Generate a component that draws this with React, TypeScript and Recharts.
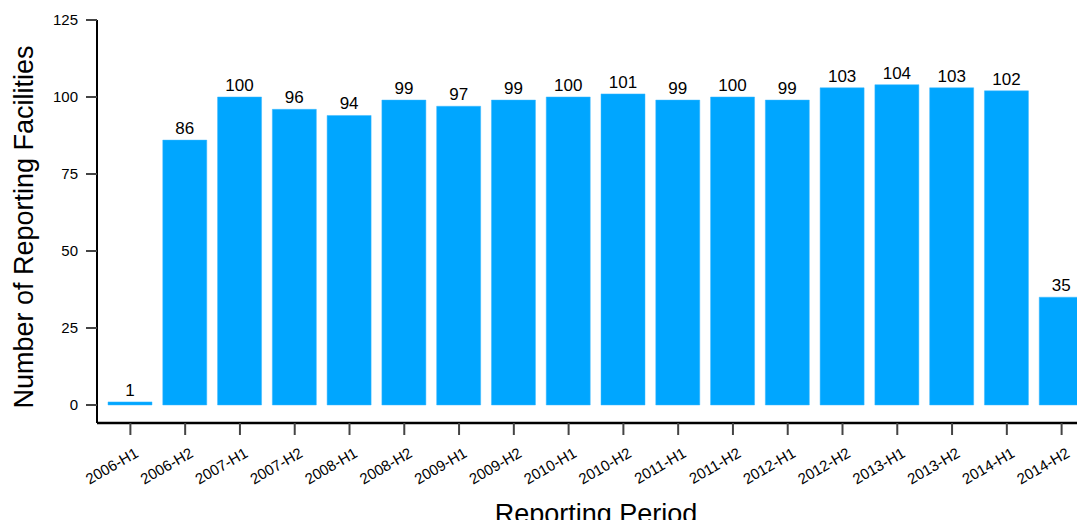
import React from "react";
import { BarChart, Bar, XAxis, YAxis, LabelList } from "recharts";

const periods = [
  "2006-H1", "2006-H2", "2007-H1", "2007-H2", "2008-H1", "2008-H2",
  "2009-H1", "2009-H2", "2010-H1", "2010-H2", "2011-H1", "2011-H2",
  "2012-H1", "2012-H2", "2013-H1", "2013-H2", "2014-H1", "2014-H2",
];
const facilities = [1, 86, 100, 96, 94, 99, 97, 99, 100, 101, 99, 100, 99, 103, 104, 103, 102, 35];
const yTicks = [0, 25, 50, 75, 100, 125];

const data = periods.map((p, i) => ({ period: p, count: facilities[i] }));

const FONT = "'Liberation Sans', Arial, sans-serif";

const PeriodTick = (props: any) => {
  const { x, payload } = props;
  return (
    <g transform={`translate(${x + 9},${456})`}>
      <text
        x={0}
        y={0}
        textAnchor="end"
        transform="rotate(-30)"
        fontSize={15}
        fontFamily={FONT}
        fill="#000"
      >
        {payload.value}
      </text>
    </g>
  );
};

const YTitle = () => (
  <text
    transform="translate(33,227) rotate(-90)"
    textAnchor="middle"
    fontSize={27}
    fontFamily={FONT}
    fill="#000"
  >
    Number of Reporting Facilities
  </text>
);

const XTitle = () => (
  <text x={596} y={523} textAnchor="middle" fontSize={27} fontFamily={FONT} fill="#000">
    Reporting Period
  </text>
);

export default function App() {
  return (
    <div style={{ margin: -8, width: 1085, height: 528, overflow: "hidden", background: "#fff" }}>
      <BarChart
        width={1095}
        height={528}
        data={data}
        margin={{ top: 20, right: 6, bottom: 0, left: 0 }}
        barSize={44}
      >
        <XAxis
          dataKey="period"
          height={105}
          padding={{ left: 6, right: 0 }}
          interval={0}
          axisLine={{ stroke: "#000", strokeWidth: 2.5 }}
          tickLine={{ stroke: "#444", strokeWidth: 2 }}
          tickSize={12}
          tick={<PeriodTick />}
          label={<XTitle />}
        />
        <YAxis
          width={97}
          domain={[-5.85, 125]}
          ticks={yTicks}
          allowDataOverflow
          axisLine={{ stroke: "#000", strokeWidth: 2 }}
          tickLine={{ stroke: "#444", strokeWidth: 2 }}
          tickSize={11}
          tickMargin={8}
          tick={{ fontSize: 15, fontFamily: FONT, fill: "#000" }}
          label={<YTitle />}
        />
        <Bar dataKey="count" fill="#00A6FF" stroke="#3DB8FF" strokeWidth={0.5} isAnimationActive={false}>
          <LabelList
            dataKey="count"
            position="top"
            offset={6}
            fontSize={17}
            fontFamily={FONT}
            fill="#000"
          />
        </Bar>
      </BarChart>
    </div>
  );
}
